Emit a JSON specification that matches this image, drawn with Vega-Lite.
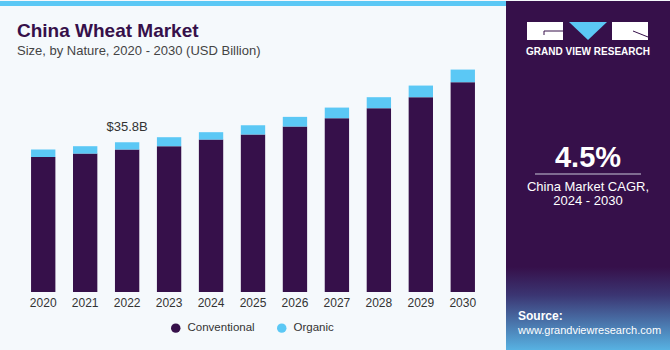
{
  "$schema": "https://vega.github.io/schema/vega-lite/v6.json",
  "background": "#F5F9FC",
  "padding": 0,
  "spacing": 0,
  "config": {
    "view": {"stroke": null},
    "font": "Liberation Sans",
    "concat": {"spacing": 0}
  },
  "resolve": {"scale": {"color": "independent"}, "legend": {"color": "independent"}},
  "datasets": {
    "market": [
      {"year": "2020", "nature": "Conventional", "value": 32.28},
      {"year": "2020", "nature": "Organic", "value": 1.75},
      {"year": "2021", "nature": "Conventional", "value": 33.07},
      {"year": "2021", "nature": "Organic", "value": 1.77},
      {"year": "2022", "nature": "Conventional", "value": 34.03},
      {"year": "2022", "nature": "Organic", "value": 1.77},
      {"year": "2023", "nature": "Conventional", "value": 34.84},
      {"year": "2023", "nature": "Organic", "value": 2.15},
      {"year": "2024", "nature": "Conventional", "value": 36.42},
      {"year": "2024", "nature": "Organic", "value": 1.77},
      {"year": "2025", "nature": "Conventional", "value": 37.61},
      {"year": "2025", "nature": "Organic", "value": 2.25},
      {"year": "2026", "nature": "Conventional", "value": 39.53},
      {"year": "2026", "nature": "Organic", "value": 2.32},
      {"year": "2027", "nature": "Conventional", "value": 41.53},
      {"year": "2027", "nature": "Organic", "value": 2.54},
      {"year": "2028", "nature": "Conventional", "value": 43.92},
      {"year": "2028", "nature": "Organic", "value": 2.63},
      {"year": "2029", "nature": "Conventional", "value": 46.55},
      {"year": "2029", "nature": "Organic", "value": 2.78},
      {"year": "2030", "nature": "Conventional", "value": 50.14},
      {"year": "2030", "nature": "Organic", "value": 3.01}
    ],
    "label": [
      {"year": "2022", "total": 35.8, "text": "$35.8B"}
    ]
  },
  "hconcat": [
    {
      "spacing": 15,
      "resolve": {"scale": {"color": "independent"}, "legend": {"color": "independent"}},
      "vconcat": [
        {
          "width": 506,
          "height": 5,
          "view": {"fill": "#5BC8F5", "stroke": null},
          "data": {"name": "label"},
          "mark": {"type": "point", "opacity": 0},
          "encoding": {}
        },
        {
          "width": 506,
          "height": 231,
          "title": {
            "text": "China Wheat Market",
            "subtitle": "Size, by Nature, 2020 - 2030 (USD Billion)",
            "anchor": "start",
            "dx": 17,
            "fontSize": 19,
            "fontWeight": "bold",
            "color": "#36104A",
            "subtitleFontSize": 13,
            "subtitleColor": "#444444",
            "subtitlePadding": 4,
            "offset": 3
          },
          "layer": [
            {
              "data": {"name": "market"},
              "mark": {"type": "bar"},
              "encoding": {
                "x": {
                  "field": "year",
                  "type": "nominal",
                  "scale": {"paddingInner": 0.42, "paddingOuter": 0.74},
                  "axis": {
                    "title": null,
                    "labelAngle": 0,
                    "ticks": false,
                    "domain": false,
                    "labelFontSize": 12,
                    "labelColor": "#333333",
                    "labelPadding": 5
                  }
                },
                "y": {
                  "field": "value",
                  "type": "quantitative",
                  "stack": "zero",
                  "scale": {"domain": [0, 55.2], "nice": false},
                  "axis": null
                },
                "color": {
                  "field": "nature",
                  "type": "nominal",
                  "scale": {"domain": ["Conventional", "Organic"], "range": ["#36104A", "#5BC8F5"]},
                  "legend": {
                    "title": null,
                    "orient": "none",
                    "legendX": 170,
                    "legendY": 261,
                    "direction": "horizontal",
                    "symbolType": "circle",
                    "symbolSize": 90,
                    "labelFontSize": 11.5,
                    "labelColor": "#333333",
                    "labelOffset": 6,
                    "columnPadding": 21
                  }
                },
                "order": {"field": "nature", "sort": "ascending"}
              }
            },
            {
              "data": {"name": "label"},
              "mark": {"type": "text", "baseline": "bottom", "dy": -8, "fontSize": 13, "color": "#333333"},
              "encoding": {
                "x": {"field": "year", "type": "nominal"},
                "y": {"field": "total", "type": "quantitative"},
                "text": {"field": "text"}
              }
            }
          ]
        }
      ]
    },
    {
      "width": 164,
      "height": 350,
      "view": {
        "stroke": null,
        "fill": {
          "gradient": "linear",
          "x1": 0, "y1": 0, "x2": 0, "y2": 1,
          "stops": [
            {"offset": 0, "color": "#36104A"},
            {"offset": 0.76, "color": "#36104A"},
            {"offset": 0.84, "color": "#3B3572"},
            {"offset": 1, "color": "#58B4E4"}
          ]
        }
      },
      "layer": [
        {
          "data": {"values": [{"part": "blocks"}]},
          "mark": {"type": "point", "filled": true, "size": 4, "fill": "#FFFFFF", "strokeWidth": 0, "opacity": 1,
            "shape": "M-61,-154H-25V-136H-61Z M24,-154H60V-136H24Z"},
          "encoding": {}
        },
        {
          "data": {"values": [{"part": "cuts"}]},
          "mark": {"type": "point", "filled": false, "size": 4, "stroke": "#36104A", "strokeWidth": 1, "opacity": 1,
            "shape": "M-44,-141V-145H-25 M45,-145L60,-139"},
          "encoding": {}
        },
        {
          "data": {"values": [{"part": "triangle"}]},
          "mark": {"type": "point", "filled": true, "size": 4, "fill": "#5BC8F5", "strokeWidth": 0, "opacity": 1,
            "shape": "M-19,-154H19L0,-136Z"},
          "encoding": {}
        },
        {
          "data": {"values": [{"text": "GRAND VIEW RESEARCH"}]},
          "mark": {"type": "text", "color": "#FFFFFF", "fontSize": 10, "fontWeight": "bold", "baseline": "alphabetic", "dy": -121, "align": "center"},
          "encoding": {"text": {"field": "text"}}
        },
        {
          "data": {"values": [{"text": "4.5%"}]},
          "mark": {"type": "text", "color": "#FFFFFF", "fontSize": 29, "fontWeight": "bold", "baseline": "alphabetic", "dy": -9, "align": "center"},
          "encoding": {"text": {"field": "text"}}
        },
        {
          "data": {"values": [{"part": "line"}]},
          "mark": {"type": "point", "filled": false, "size": 4, "stroke": "#C8C8D8", "strokeWidth": 1, "opacity": 1,
            "shape": "M-53,-2H53"},
          "encoding": {}
        },
        {
          "data": {"values": [{"text": "China Market CAGR,\n2024 - 2030"}]},
          "mark": {"type": "text", "color": "#FFFFFF", "fontSize": 13, "baseline": "alphabetic", "dy": 15, "align": "center", "lineBreak": "\n", "lineHeight": 14},
          "encoding": {"text": {"field": "text"}}
        },
        {
          "data": {"values": [{"text": "Source:"}]},
          "mark": {"type": "text", "color": "#FFFFFF", "fontSize": 12, "fontWeight": "bold", "baseline": "alphabetic", "dy": 144, "dx": -70, "align": "left"},
          "encoding": {"text": {"field": "text"}}
        },
        {
          "data": {"values": [{"text": "www.grandviewresearch.com"}]},
          "mark": {"type": "text", "color": "#FFFFFF", "fontSize": 11, "baseline": "alphabetic", "dy": 158, "dx": -70, "align": "left"},
          "encoding": {"text": {"field": "text"}}
        }
      ]
    }
  ]
}
